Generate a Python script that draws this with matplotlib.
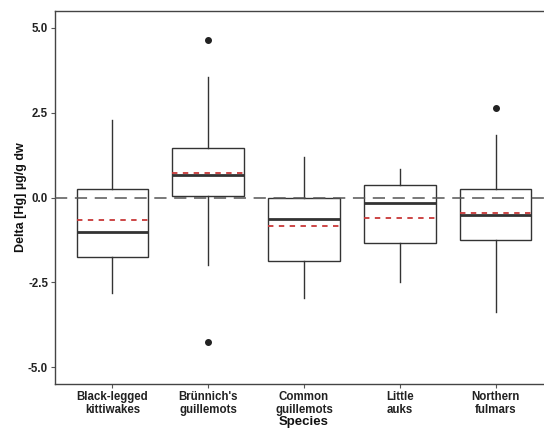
import matplotlib
matplotlib.use("Agg")
import matplotlib.pyplot as plt

species = ["Black-legged\nkittiwakes", "Brünnich's\nguillemots", "Common\nguillemots", "Little\nauks", "Northern\nfulmars"]
q1 = [-1.74, 0.03, -1.88, -1.33, -1.26]
median = [-1.02, 0.66, -0.63, -0.16, -0.51]
q3 = [0.25, 1.45, 0.00, 0.36, 0.24]
whislo = [-2.83, -1.99, -2.96, -2.50, -3.37]
whishi = [2.28, 3.55, 1.20, 0.84, 1.84]
means = [-0.65, 0.71, -0.84, -0.61, -0.45]
outliers = [[], [4.65, -4.27], [], [], [2.63]]
yticks = [-5.0, -2.5, 0.0, 2.5, 5.0]

plt.rcParams['font.family'] = ['Liberation Sans', 'DejaVu Sans']

fig = plt.figure(figsize=(5.44, 4.28), dpi=100)
W, H = 544, 428
left, right, top, bottom = 55, 553, 11, 384
ax = fig.add_axes([left / W, (H - bottom) / H, (right - left) / W, (bottom - top) / H])

stats = []
for i in range(len(species)):
    stats.append(dict(q1=q1[i], med=median[i], q3=q3[i], whislo=whislo[i],
                      whishi=whishi[i], mean=means[i], fliers=outliers[i]))

dark = "#333333"
ax.bxp(stats, positions=range(1, 6), widths=0.75, showmeans=True, meanline=True,
       showcaps=False, patch_artist=True,
       boxprops=dict(facecolor="white", edgecolor=dark, linewidth=1.0),
       whiskerprops=dict(color=dark, linewidth=1.0),
       medianprops=dict(color=dark, linewidth=2.0),
       meanprops=dict(color="#C83737", linewidth=1.3, linestyle=(0, (3, 3))),
       flierprops=dict(marker="o", markerfacecolor="#222222", markeredgecolor="#222222",
                       markersize=4),
       zorder=2)
ax.axhline(0, color="#555555", lw=1.1, dashes=(8, 5), zorder=3)

ax.set_xlim(0.4, 5.6)
ax.set_ylim(-5.5, 5.5)
ax.set_yticks(yticks)
ax.set_yticklabels([f"{v:.1f}" for v in yticks])
ax.set_xticks(range(1, 6))
ax.set_xticklabels(species, linespacing=1.15)
for lab in ax.get_xticklabels() + ax.get_yticklabels():
    lab.set_fontweight("bold")
    lab.set_fontsize(8.3)
    lab.set_color("#222222")
ax.tick_params(axis="both", length=3, width=0.8, color="#555555", pad=2)

for s in ["left", "bottom", "top"]:
    ax.spines[s].set_color("#444444")
    ax.spines[s].set_linewidth(1.0)
ax.spines["right"].set_visible(False)

ax.set_xlabel("Species", fontweight="bold", fontsize=9.5, labelpad=0, color="#111111")
ax.set_ylabel("Delta [Hg] µg/g dw", fontweight="bold", fontsize=9, labelpad=1, color="#111111")

fig.savefig("out.png", dpi=100)
